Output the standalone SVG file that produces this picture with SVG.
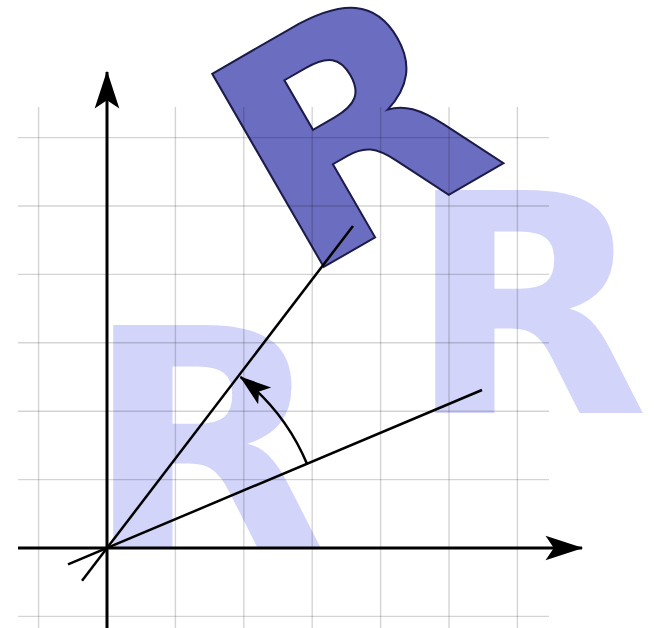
<svg xmlns="http://www.w3.org/2000/svg" width="654" height="628" viewBox="0 0 654 628">
<defs>
<style>
.lr{fill:#d2d4fa;font-family:"DejaVu Sans",sans-serif;font-weight:bold;font-size:306px}
.dr{fill:#6b6ec0;stroke:#1c1c4a;stroke-width:2;stroke-linejoin:miter;font-family:"DejaVu Sans",sans-serif;font-weight:bold;font-size:306px}
.grid line{stroke:#000;stroke-opacity:0.17;stroke-width:1.4}
.ax{stroke:#000;stroke-width:3;fill:none}
.ln{stroke:#000;stroke-width:2.5;fill:none}
</style>
<marker id="ah" markerUnits="userSpaceOnUse" markerWidth="40" markerHeight="30" viewBox="-32 -12 34 24" refX="0" refY="0" orient="auto">
<path d="M1,0 L-31,-10.5 L-24,0 L-31,10.5 Z" fill="#000"/>
</marker>
<marker id="ah2" markerUnits="userSpaceOnUse" markerWidth="40" markerHeight="30" viewBox="-32 -12 34 24" refX="0" refY="0" orient="auto">
<path d="M1,0 L-26,-9 L-20,0 L-26,9 Z" fill="#000"/>
</marker>
</defs>
<rect width="654" height="628" fill="#fff"/>
<g id="letters">
<text class="lr" x="-23" y="0" transform="translate(108 548) scale(1.03 1)">R</text>
<text class="lr" x="-23" y="0" transform="translate(430 413) scale(1.03 1)">R</text>
<text class="dr" x="-23" y="0" transform="rotate(-30 107 548) translate(430 413) scale(1.03 1)">R</text>
</g>
<g class="grid" id="grid">
<line x1="38.6" y1="107" x2="38.6" y2="628"/>
<line x1="175.4" y1="107" x2="175.4" y2="628"/>
<line x1="243.8" y1="107" x2="243.8" y2="628"/>
<line x1="312.2" y1="107" x2="312.2" y2="628"/>
<line x1="380.6" y1="107" x2="380.6" y2="628"/>
<line x1="449" y1="107" x2="449" y2="628"/>
<line x1="517.4" y1="107" x2="517.4" y2="628"/>
<line x1="18" y1="137.6" x2="549" y2="137.6"/>
<line x1="18" y1="206" x2="549" y2="206"/>
<line x1="18" y1="274.4" x2="549" y2="274.4"/>
<line x1="18" y1="342.8" x2="549" y2="342.8"/>
<line x1="18" y1="411.2" x2="549" y2="411.2"/>
<line x1="18" y1="479.6" x2="549" y2="479.6"/>
<line x1="18" y1="616.4" x2="549" y2="616.4"/>
</g>
<g id="connectors">
<line class="ax" x1="18" y1="548" x2="582" y2="548" marker-end="url(#ah)"/>
<line class="ax" x1="107" y1="628" x2="107" y2="72" marker-end="url(#ah)"/>
<line class="ln" x1="68" y1="564.4" x2="482" y2="390"/>
<line class="ln" x1="82" y1="580.8" x2="353" y2="226"/>
<path class="ln" d="M307.2,464.3 A217,217 0 0 0 240.5,377" marker-end="url(#ah2)"/>
</g>
</svg>
